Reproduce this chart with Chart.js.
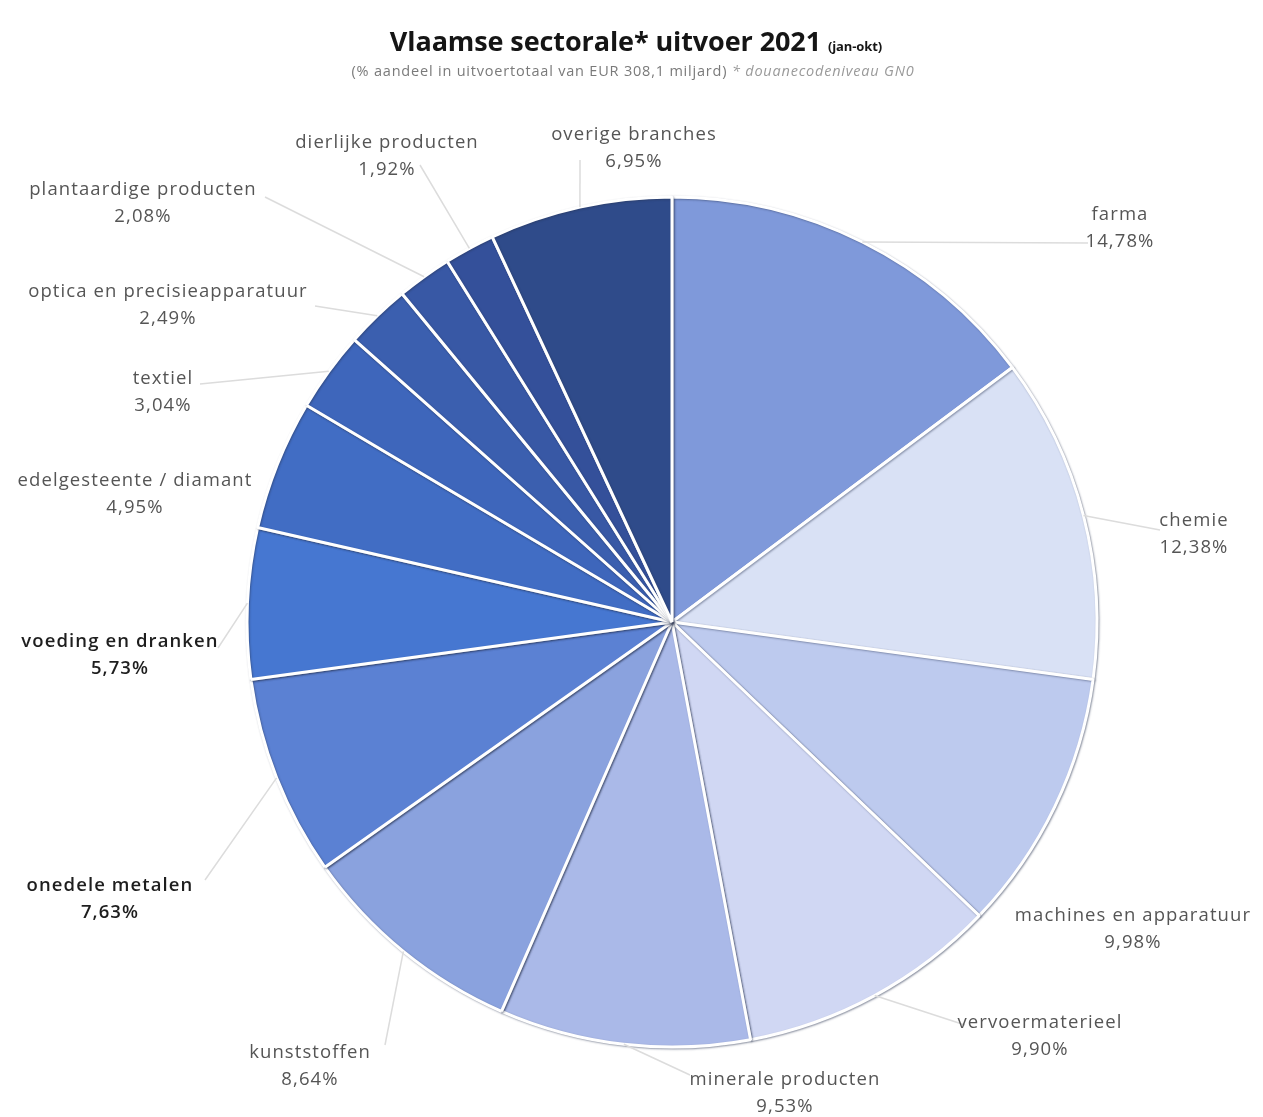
<!DOCTYPE html>
<html>
<head>
<meta charset="utf-8">
<script src="https://cdn.jsdelivr.net/npm/chart.js@4/dist/chart.umd.min.js"></script>
<style>
html,body{margin:0;padding:0;background:#fff;}
#wrap{position:relative;width:1263px;height:1117px;overflow:hidden;}
#chart{position:absolute;left:0;top:0;width:1263px;height:1117px;}
#title{position:absolute;left:0;width:1272px;top:22px;text-align:center;font-family:'Open Sans',sans-serif;font-weight:700;font-size:27px;color:#151515;letter-spacing:-0.1px;}
#title small{font-size:13px;font-weight:700;}
#subtitle{position:absolute;left:0;width:1266px;top:61px;text-align:center;font-family:'Open Sans',sans-serif;font-size:14.5px;letter-spacing:0.8px;color:#7a7a7a;}
#subtitle i{color:#9a9a9a;}
</style>
</head>
<body>
<div id="wrap">
  <canvas id="chart" width="1263" height="1117"></canvas>
  <div id="title">Vlaamse sectorale* uitvoer 2021 <small>(jan-okt)</small></div>
  <div id="subtitle">(% aandeel in uitvoertotaal van EUR 308,1 miljard) <i>* douanecodeniveau GN0</i></div>
</div>
<script>
// ---- data ----
const categories = ['farma','chemie','machines en apparatuur','vervoermaterieel','minerale producten','kunststoffen','onedele metalen','voeding en dranken','edelgesteente / diamant','textiel','optica en precisieapparatuur','plantaardige producten','dierlijke producten','overige branches'];
const shares = [14.78,12.38,9.98,9.90,9.53,8.64,7.63,5.73,4.95,3.04,2.49,2.08,1.92,6.95];
const sliceColors = ['#7f99da','#d9e1f5','#bdcaee','#d0d7f3','#aab9e8','#8aa2de','#5b81d3','#4677d1','#416dc4','#3e66bb','#3b5faf','#3858a5','#34509a','#2f4b8a'];

// ---- label layout (text centre x, first-line y, leader end x, leader end y, emphasis) ----
const labelLayout = [
  [1120, 215, 1088, 243, false],
  [1194, 521, 1160, 530, false],
  [1133, 916, null, null, false],
  [1040, 1023, 965, 1025, false],
  [785, 1080, 690, 1075, false],
  [310, 1053, 385, 1045, false],
  [110, 886, 205, 880, true],
  [120, 642, 218, 648, true],
  [135, 481, null, null, false],
  [163, 379, 200, 384, false],
  [168, 292, 315, 306, false],
  [143, 190, 265, 197, false],
  [387, 143, 420, 165, false],
  [634, 135, 580, 160, false]
];

const fmt = v => v.toFixed(2).replace('.', ',') + '%';

const shadowPlugin = {
  id: 'shadowPlugin',
  beforeDatasetsDraw(chart) {
    const ctx = chart.ctx;
    ctx.save();
    ctx.shadowColor = 'rgba(40,50,80,0.45)';
    ctx.shadowBlur = 2;
    ctx.shadowOffsetX = 1;
    ctx.shadowOffsetY = 1;
  },
  afterDatasetsDraw(chart) {
    chart.ctx.restore();
  }
};

const labelPlugin = {
  id: 'labelPlugin',
  afterDraw(chart) {
    const ctx = chart.ctx;
    const meta = chart.getDatasetMeta(0);
    ctx.save();
    meta.data.forEach((arc, i) => {
      const p = arc.getProps(['x','y','startAngle','endAngle','outerRadius'], true);
      const mid = (p.startAngle + p.endAngle) / 2;
      const sx = p.x + Math.cos(mid) * p.outerRadius;
      const sy = p.y + Math.sin(mid) * p.outerRadius;
      const L = labelLayout[i];
      if (L[2] !== null) {
        ctx.strokeStyle = '#dcdcdc';
        ctx.lineWidth = 1.5;
        ctx.beginPath();
        ctx.moveTo(sx, sy);
        ctx.lineTo(L[2], L[3]);
        ctx.stroke();
      }
      ctx.textAlign = 'center';
      ctx.textBaseline = 'middle';
      ctx.fillStyle = L[4] ? '#1e1e1e' : '#555555';
      ctx.font = (L[4] ? '600 ' : '400 ') + '18.5px "Open Sans", sans-serif';
      if ('letterSpacing' in ctx) ctx.letterSpacing = '1.1px';
      ctx.fillText(categories[i], L[0], L[1]);
      ctx.fillText(fmt(shares[i]), L[0], L[1] + 27);
    });
    ctx.restore();
  }
};

new Chart(document.getElementById('chart'), {
  type: 'pie',
  data: {
    labels: categories,
    datasets: [{
      data: shares,
      backgroundColor: sliceColors,
      borderColor: '#ffffff',
      borderWidth: 3
    }]
  },
  options: {
    responsive: false,
    animation: false,
    radius: 425,
    layout: { padding: { left: 81, right: 0, top: 127, bottom: 0 } },
    plugins: {
      legend: { display: false },
      title: { display: false },
      tooltip: { enabled: false }
    }
  },
  plugins: [shadowPlugin, labelPlugin]
});
</script>
</body>
</html>
